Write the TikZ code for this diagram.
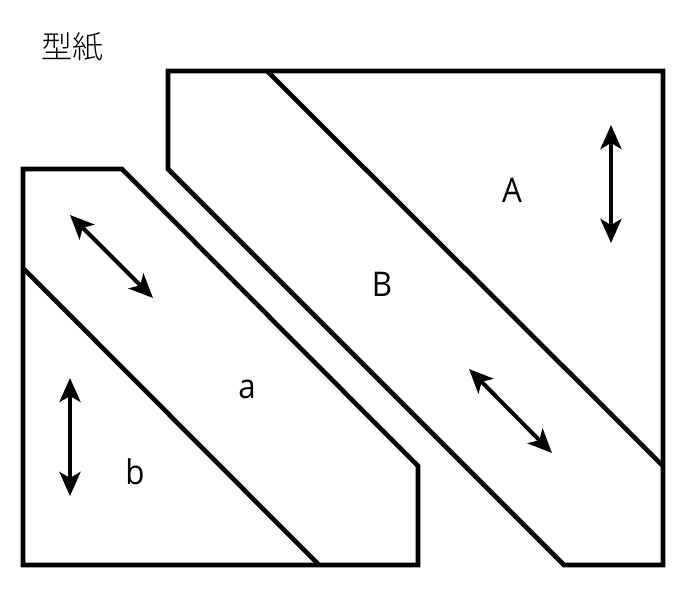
\documentclass[tikz,border=0pt]{standalone}
\usepackage{fontspec}
\setmainfont{Open Sans}
\newfontfamily\cjk{Noto Sans CJK JP Light}
\usetikzlibrary{arrows.meta}
\tikzset{
  outline/.style={line width=4.6pt,line join=miter,draw=black},
  dblarrow/.style={line width=4pt,draw=black,{Stealth[length=24pt,width=21pt,inset=6pt]}-{Stealth[length=24pt,width=21pt,inset=6pt]}},
  lbl/.style={font=\fontsize{34}{36}\selectfont,inner sep=0pt,text=black,xscale=0.92}
}
\begin{document}
\begin{tikzpicture}[x=1pt,y=-1pt]
\useasboundingbox (0,0) rectangle (680,600);
\node[font=\cjk\fontsize{31}{33}\selectfont,inner sep=0pt,text=black] (title) at (72,47) {型紙};
% upper piece
\coordinate (p1) at (168,71);
\coordinate (p2) at (663,71);
\coordinate (p3) at (663,565);
\coordinate (p4) at (564,565);
\coordinate (p5) at (168,169);
\coordinate (p6) at (267,71);
\coordinate (p7) at (663,466);
\draw[outline] (p1) -- (p2) -- (p3) -- (p4) -- (p5) -- cycle;
\draw[outline] (p6) -- (p7);
% lower piece
\coordinate (q1) at (23,169);
\coordinate (q2) at (122,169);
\coordinate (q3) at (418,466);
\coordinate (q4) at (418,565);
\coordinate (q5) at (23,565);
\coordinate (q6) at (23,268);
\coordinate (q7) at (319,565);
\draw[outline] (q1) -- (q2) -- (q3) -- (q4) -- (q5) -- cycle;
\draw[outline] (q6) -- (q7);
% arrows
\coordinate (a1) at (611,125); \coordinate (a2) at (611,243);
\coordinate (a3) at (469,369); \coordinate (a4) at (552,453);
\coordinate (a5) at (70,215);  \coordinate (a6) at (153,298);
\coordinate (a7) at (70,378);  \coordinate (a8) at (70,496);
\draw[dblarrow] (a1) -- (a2);
\draw[dblarrow] (a3) -- (a4);
\draw[dblarrow] (a5) -- (a6);
\draw[dblarrow] (a7) -- (a8);
\node[lbl] (A) at (512,190) {A};
\node[lbl] (B) at (382,284) {B};
\node[lbl] (a) at (247,389) {a};
\node[lbl] (b) at (135,472) {b};
\end{tikzpicture}
\end{document}
